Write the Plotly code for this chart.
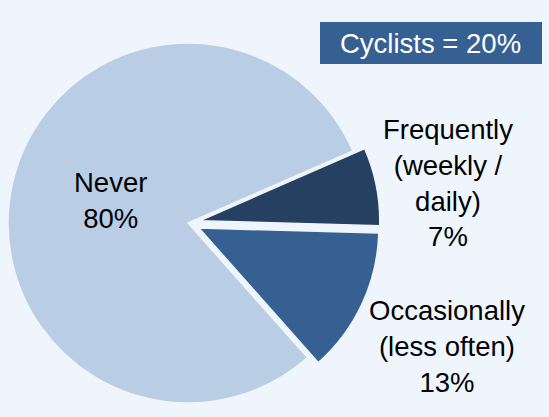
import numpy as np
import plotly.graph_objects as go

# ---- data ----
categories = ["Frequently<br>(weekly /<br>daily)", "Occasionally<br>(less often)", "Never"]
values = [7, 13, 80]
colors = ["#254061", "#376092", "#B9CDE5"]
exploded = [True, True, False]
callout = "Cyclists = 20%"

# ---- layout constants ----
W, H = 549, 417
BG = "#EEF5FD"
R = 180            # pie radius in px
CX, CY = 188, 223  # pie centre in px
EXPLODE = 12       # px offset of exploded slices
ROT = 66.4         # degrees clockwise from 12 o'clock where first slice starts
FONT = dict(family="Liberation Sans, Arial, sans-serif", size=27.5, color="#000000")


def domain_for(cx, cy):
    return dict(x=[(cx - R) / W, (cx + R) / W], y=[1 - (cy + R) / H, 1 - (cy - R) / H])


fig = go.Figure()
total = float(sum(values))
cum = 0.0
for i, (lab, v, c, ex) in enumerate(zip(categories, values, colors, exploded)):
    mid = ROT + (cum + v / 2) / total * 360.0  # clockwise from 12 o'clock
    cum += v
    th = np.deg2rad(mid)
    dx, dy = (EXPLODE * np.sin(th), -EXPLODE * np.cos(th)) if ex else (0.0, 0.0)
    slice_colors = ["rgba(0,0,0,0)"] * len(values)
    slice_colors[i] = c
    widths = [0] * len(values)
    widths[i] = 1.5
    fig.add_trace(go.Pie(
        labels=categories, values=values, sort=False, direction="clockwise",
        rotation=ROT, textinfo="none", hoverinfo="skip", showlegend=False,
        marker=dict(colors=slice_colors, line=dict(color=BG, width=widths)),
        domain=domain_for(CX + dx, CY + dy),
    ))

# labels
label_pos = [(448, 183), (447, 346), (110, 200)]
for lab, v, (x, y) in zip(categories, values, label_pos):
    fig.add_annotation(x=x / W, y=1 - y / H, xref="paper", yref="paper",
                       text=f"{lab}<br>{v}%", showarrow=False, font=FONT,
                       xanchor="center", yanchor="middle", align="center")

# callout box
fig.add_shape(type="rect", xref="paper", yref="paper",
              x0=320 / W, x1=542 / W, y0=1 - 64 / H, y1=1 - 22 / H,
              fillcolor="#376092", line=dict(width=0), layer="above")
fig.add_annotation(x=431 / W, y=1 - 43 / H, xref="paper", yref="paper",
                   text=callout, showarrow=False,
                   font=dict(family=FONT["family"], size=27.5, color="#FFFFFF"),
                   xanchor="center", yanchor="middle")

fig.update_layout(width=W, height=H, margin=dict(l=0, r=0, t=0, b=0),
                  paper_bgcolor=BG, plot_bgcolor=BG)
fig.write_html("out.html", config={"displayModeBar": False},
               post_script="document.body.style.margin='0';document.body.style.background='" + BG + "';")
